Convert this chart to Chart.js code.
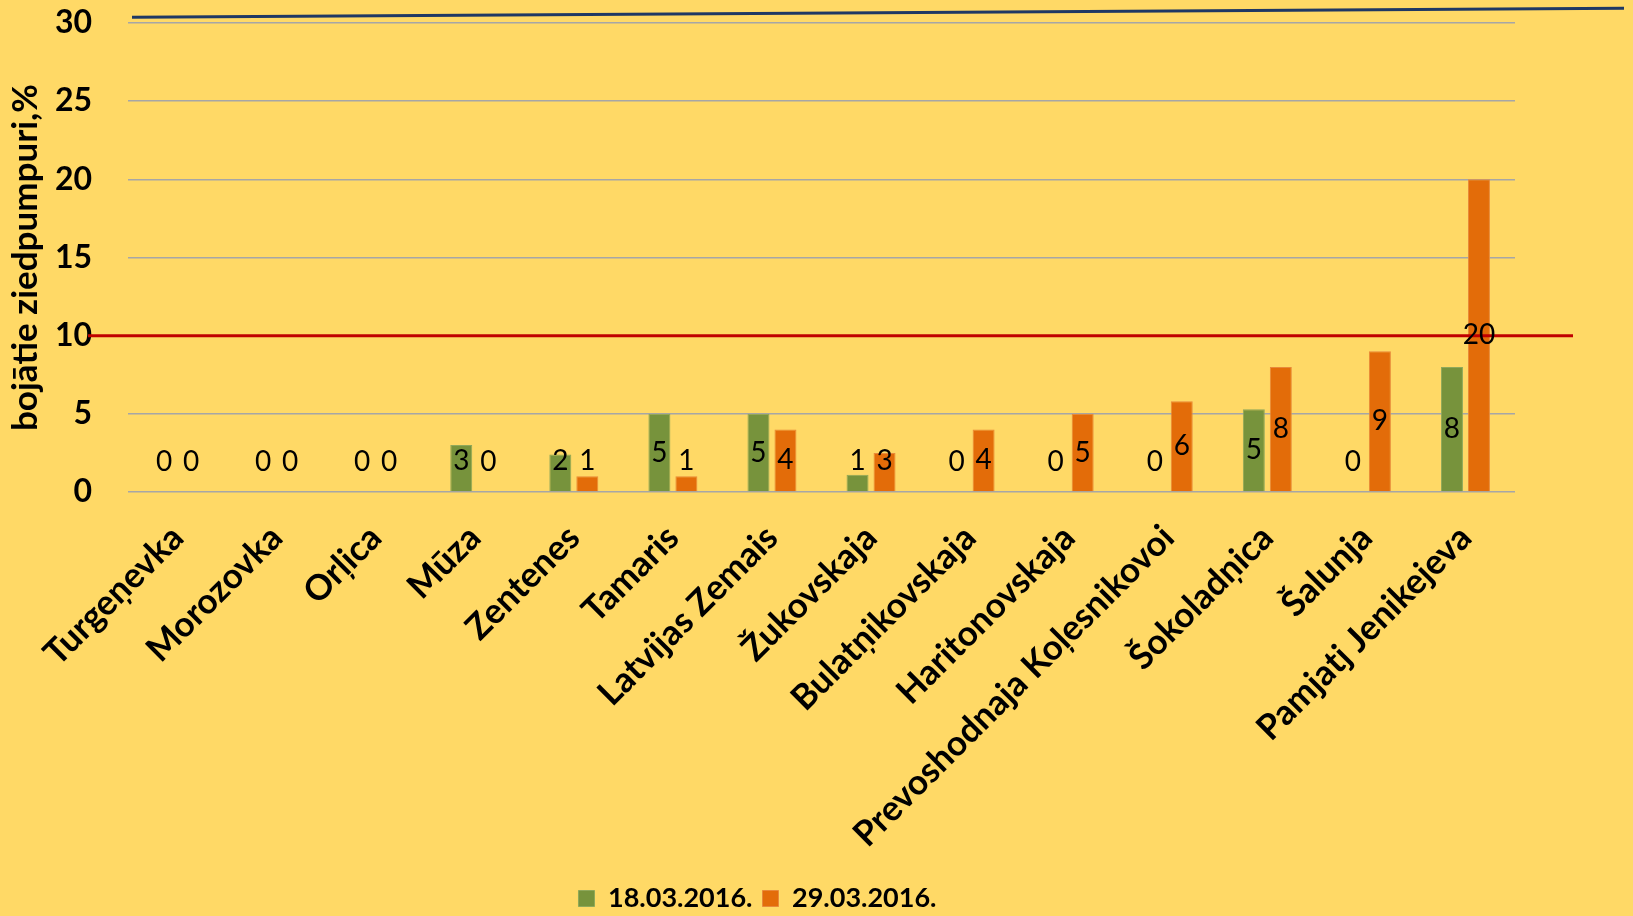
<!DOCTYPE html>
<html>
<head>
<meta charset="utf-8">
<script src="https://cdn.jsdelivr.net/npm/chart.js@4"></script>
<style>
    html, body { margin: 0; padding: 0; background: #FFD966; }
    #wrap { width: 1633px; height: 916px; position: relative; }
</style>
</head>
<body>
<div id="wrap"><canvas id="bud-chart"></canvas></div>
<script>
const varieties = [
    "Turgeņevka", "Morozovka", "Orļica", "Mūza", "Zentenes", "Tamaris",
    "Latvijas Zemais", "Žukovskaja", "Bulatņikovskaja", "Haritonovskaja",
    "Prevoshodnaja Koļesnikovoi", "Šokoladņica", "Šalunja", "Pamjatj Jenikejeva"
];
const seriesNames = ["18.03.2016.", "29.03.2016."];
const damaged18 = [0, 0, 0, 3, 2.4, 5, 5, 1.1, 0, 0, 0, 5.3, 0, 8];
const damaged29 = [0, 0, 0, 0, 1, 1, 4, 2.5, 4, 5, 5.8, 8, 9, 20];
const yTicks = [0, 5, 10, 15, 20, 25, 30];
const thresholdValue = 10;
const topLineValues = [30.37, 30.94];

const FONT = "Lato, 'Open Sans', sans-serif";

// red threshold line, dark top line and the value labels
const overlayPlugin = {
    id: 'overlay',
    afterDatasetsDraw(chart) {
        const ctx = chart.ctx;
        const y = chart.scales.y;
        const area = chart.chartArea;

        ctx.save();
        ctx.strokeStyle = '#C00000';
        ctx.lineWidth = 3;
        ctx.beginPath();
        ctx.moveTo(area.left - 40, y.getPixelForValue(thresholdValue));
        ctx.lineTo(area.right + 58, y.getPixelForValue(thresholdValue));
        ctx.stroke();

        ctx.strokeStyle = '#1F3864';
        ctx.lineWidth = 3;
        ctx.beginPath();
        ctx.moveTo(area.left + 4, y.getPixelForValue(topLineValues[0]));
        ctx.lineTo(area.right + 109, y.getPixelForValue(topLineValues[1]));
        ctx.stroke();

        ctx.fillStyle = '#000';
        ctx.font = '28px ' + FONT;
        ctx.textAlign = 'center';
        ctx.textBaseline = 'middle';
        chart.data.datasets.forEach((ds, i) => {
            chart.getDatasetMeta(i).data.forEach((bar, j) => {
                const mid = (bar.y + bar.base) / 2;
                const ly = Math.min(mid, bar.base - 30);
                ctx.fillText(String(Math.round(ds.data[j])), bar.x, ly);
            });
        });
        ctx.restore();
    }
};

function initChart() {
    const ctx = document.getElementById('bud-chart').getContext('2d');
    return new Chart(ctx, {
        type: 'bar',
        data: {
            labels: varieties,
            datasets: [{
                label: seriesNames[0],
                data: damaged18,
                backgroundColor: '#77933C',
                borderColor: '#8FA85A',
                borderWidth: 1
            }, {
                label: seriesNames[1],
                data: damaged29,
                backgroundColor: '#E36C09',
                borderColor: '#E8893A',
                borderWidth: 1
            }]
        },
        options: {
            responsive: true,
            maintainAspectRatio: false,
            animation: false,
            layout: {
                padding: { top: 23, right: 118, bottom: -6, left: 0 }
            },
            datasets: {
                bar: { categoryPercentage: 0.545, barPercentage: 0.815 }
            },
            scales: {
                x: {
                    grid: { display: false },
                    border: { display: false },
                    ticks: {
                        color: '#000',
                        font: { family: FONT, size: 35, weight: 'bold' },
                        minRotation: 45,
                        maxRotation: 45,
                        autoSkip: false,
                        padding: 17
                    },
                    afterFit(scale) { scale.height = 383; }
                },
                y: {
                    min: 0,
                    max: 30,
                    afterBuildTicks(scale) {
                        scale.ticks = yTicks.map(v => ({ value: v }));
                    },
                    grid: { color: '#A6A6A6', lineWidth: 1.5, drawTicks: false },
                    border: { display: false },
                    ticks: {
                        color: '#000',
                        font: { family: FONT, size: 32, weight: 'bold' },
                        padding: 36
                    },
                    title: {
                        display: true,
                        text: 'bojātie ziedpumpuri,%',
                        color: '#000',
                        font: { family: FONT, size: 35, weight: 'bold' },
                        padding: { top: 5, bottom: 0 }
                    },
                    afterFit(scale) {
                        scale.width = 128;
                        scale.paddingTop = 0;
                        scale.paddingBottom = 0;
                    }
                }
            },
            plugins: {
                legend: {
                    position: 'bottom',
                    labels: {
                        color: '#000',
                        font: { family: FONT, size: 27, weight: 'bold' },
                        boxWidth: 16,
                        boxHeight: 16,
                        padding: 10
                    }
                },
                tooltip: { enabled: false }
            }
        },
        plugins: [overlayPlugin]
    });
}

document.addEventListener('DOMContentLoaded', function() {
    initChart();
});
</script>
</body>
</html>
